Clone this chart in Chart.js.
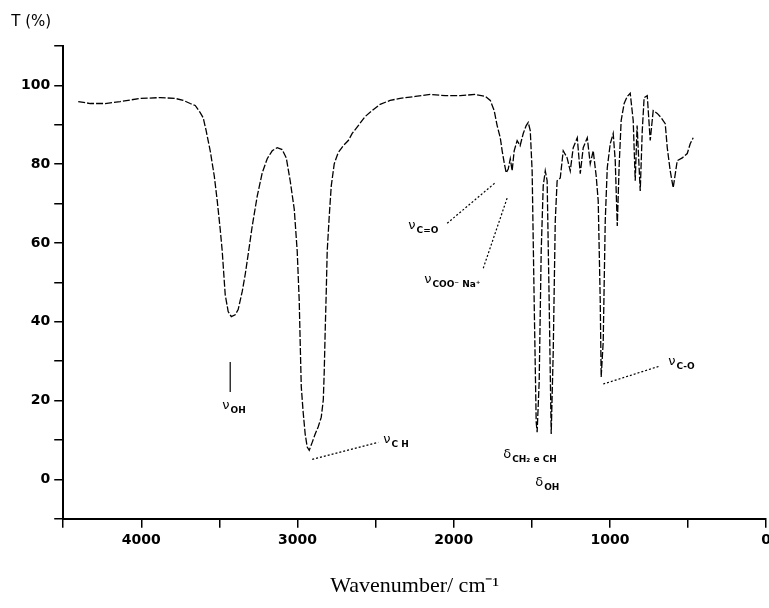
<!DOCTYPE html>
<html>
<head>
<meta charset="utf-8">
<script src="https://cdn.jsdelivr.net/npm/chart.js@4.4.1/dist/chart.umd.min.js"></script>
<style>
  html, body { margin: 0; padding: 0; background: #fff; overflow: hidden; }
  #box { width: 775px; height: 608px; position: relative; }
</style>
</head>
<body>
<div id="box"><canvas id="chart1"></canvas></div>
<script>
// IR spectrum (wavenumber in cm-1, transmittance in %)
const waveNumbers = [
  4404, 4327, 4231, 4135, 4007, 3879, 3783, 3732, 3687, 3655, 3623, 3604, 3585, 3559, 3533, 3514,
  3495, 3482, 3463, 3444, 3424, 3399, 3380, 3354, 3335, 3316, 3290, 3258, 3226, 3194, 3162, 3130,
  3098, 3072, 3047, 3021, 3002, 2989, 2983, 2976, 2964, 2951, 2938, 2925, 2906, 2887, 2868, 2848,
  2835, 2829, 2823, 2816, 2810, 2797, 2784, 2765, 2740, 2707, 2675, 2650, 2611, 2567, 2522, 2471,
  2407, 2343, 2246, 2150, 2054, 1958, 1862, 1798, 1766, 1741, 1722, 1702, 1690, 1677, 1664, 1651,
  1638, 1626, 1613, 1594, 1575, 1555, 1536, 1523, 1510, 1498, 1485, 1472, 1466, 1453, 1440, 1427,
  1414, 1402, 1389, 1376, 1363, 1350, 1338, 1318, 1299, 1274, 1254, 1235, 1209, 1190, 1171, 1145,
  1126, 1107, 1088, 1075, 1062, 1056, 1043, 1030, 1017, 998, 979, 966, 953, 941, 928, 909,
  889, 870, 851, 838, 826, 806, 793, 781, 761, 742, 723, 697, 672, 646, 633, 614,
  595, 569, 537, 505, 486, 467
];
const transmittance = [
  95.9, 95.4, 95.4, 95.9, 96.7, 96.9, 96.7, 96.2, 95.4, 94.9, 93.1, 91.8, 88.5, 83.4, 77.0, 70.7,
  63.5, 57.9, 46.9, 42.6, 41.3, 41.8, 43.1, 47.7, 52.0, 57.1, 64.3, 71.9, 77.8, 81.4, 83.4, 84.2,
  83.7, 81.6, 75.8, 68.6, 57.9, 45.2, 34.9, 23.5, 17.1, 11.5, 8.2, 7.4, 9.4, 11.5, 13.3, 15.8,
  20.2, 27.3, 37.5, 47.7, 57.9, 66.8, 74.5, 80.1, 82.9, 84.7, 86.0, 87.8, 89.8, 92.1, 93.6, 95.2,
  96.2, 96.7, 97.2, 97.7, 97.4, 97.4, 97.7, 97.2, 96.2, 93.6, 89.8, 86.7, 83.4, 80.4, 77.8, 78.8,
  81.4, 78.3, 83.4, 86.0, 84.7, 87.8, 89.8, 90.6, 88.5, 78.3, 45.2, 14.5, 12.0, 24.7, 57.9, 74.5,
  78.3, 75.8, 45.2, 11.5, 32.4, 65.6, 75.8, 76.5, 83.4, 81.6, 78.3, 84.2, 86.7, 77.6, 84.2, 86.7,
  80.1, 83.4, 77.0, 70.7, 45.2, 26.0, 34.9, 65.6, 79.1, 85.2, 87.8, 80.9, 64.3, 79.6, 91.1, 95.4,
  97.2, 98.0, 91.1, 75.8, 89.8, 73.2, 88.5, 96.9, 97.4, 86.0, 93.6, 92.9, 91.8, 90.3, 84.2, 78.3,
  74.0, 80.9, 81.6, 82.7, 85.2, 86.7
];

const xMin = 0, xMax = 4500;
const yMin = -10, yMax = 110;

// band assignments: symbol, subscript, where the label sits (wavenumber, T)
const bandLabels = [
  { sym: 'ν', sub: 'OH', x: 3482, y: 18.6 },
  { sym: 'ν', sub: 'C H', x: 2451, y: 10.2 },
  { sym: 'ν', sub: 'C=O', x: 2291, y: 64.5 },
  { sym: 'ν', sub: 'COO⁻ Na⁺', x: 2189, y: 50.8 },
  { sym: 'δ', sub: 'CH₂ e CH', x: 1683, y: 6.4 },
  { sym: 'δ', sub: 'OH', x: 1478, y: -0.8 },
  { sym: 'ν', sub: 'C-O', x: 627, y: 29.8 }
];
// leader lines [x1, y1, x2, y2, dotted]
const leaders = [
  [3431, 29.8, 3431, 22.2, false],
  [2906, 5.1, 2483, 9.4, true],
  [2042, 65.0, 1734, 75.3, true],
  [1811, 53.6, 1658, 71.4, true],
  [1043, 24.2, 678, 28.8, true]
];

const points = [];
for (let i = 0; i < waveNumbers.length; i++) {
  points.push({ x: waveNumbers[i], y: transmittance[i] });
}

const labelPlugin = {
  id: 'bandLabels',
  afterDatasetsDraw(chart) {
    const c = chart.ctx;
    const xs = chart.scales.x;
    const ys = chart.scales.y;
    c.save();
    c.strokeStyle = '#000';
    c.lineWidth = 1.2;
    leaders.forEach(l => {
      c.setLineDash(l[4] ? [2, 2] : []);
      c.beginPath();
      c.moveTo(xs.getPixelForValue(l[0]), ys.getPixelForValue(l[1]));
      c.lineTo(xs.getPixelForValue(l[2]), ys.getPixelForValue(l[3]));
      c.stroke();
    });
    c.setLineDash([]);
    c.fillStyle = '#000';
    c.textAlign = 'left';
    c.textBaseline = 'middle';
    bandLabels.forEach(b => {
      const px = xs.getPixelForValue(b.x);
      const py = ys.getPixelForValue(b.y);
      c.font = '13px "DejaVu Sans"';
      c.fillText(b.sym, px, py);
      const w = c.measureText(b.sym).width;
      c.font = 'bold 9px "DejaVu Sans"';
      c.fillText(b.sub, px + w + 1, py + 5);
    });
    // axis name top left
    c.font = '15px "DejaVu Sans"';
    c.textBaseline = 'alphabetic';
    c.fillText('T (%)', chart.chartArea.left - 52, chart.chartArea.top - 20);
    c.restore();
  }
};

new Chart(document.getElementById('chart1'), {
  type: 'line',
  data: {
    datasets: [{
      data: points,
      borderColor: '#000',
      borderWidth: 1.3,
      borderDash: [7, 2],
      pointRadius: 0,
      tension: 0,
      fill: false
    }]
  },
  options: {
    responsive: true,
    maintainAspectRatio: false,
    animation: false,
    layout: { padding: { left: 17, top: 46, right: 0, bottom: 0 } },
    plugins: {
      legend: { display: false },
      tooltip: { enabled: false }
    },
    scales: {
      x: {
        type: 'linear',
        reverse: true,
        min: xMin,
        max: xMax,
        border: { color: '#000', width: 2 },
        grid: { drawOnChartArea: false, color: '#000', tickLength: 9, lineWidth: 1.5 },
        ticks: {
          stepSize: 500,
          color: '#000',
          font: { family: 'DejaVu Sans', size: 14, weight: 'bold' },
          maxRotation: 0,
          padding: 4,
          callback: v => (v % 1000 === 0 ? String(v) : '')
        },
        title: {
          display: true,
          text: 'Wavenumber/ cm⁻¹',
          color: '#000',
          font: { family: 'Liberation Serif', size: 22 },
          padding: { top: 20, bottom: 9 }
        }
      },
      y: {
        min: yMin,
        max: yMax,
        border: { color: '#000', width: 2 },
        grid: { drawOnChartArea: false, color: '#000', tickLength: 9, lineWidth: 1.5 },
        ticks: {
          stepSize: 10,
          color: '#000',
          font: { family: 'DejaVu Sans', size: 14, weight: 'bold' },
          padding: 4,
          callback: v => (v % 20 === 0 && v >= 0 && v <= 100 ? String(v) : '')
        }
      }
    }
  },
  plugins: [labelPlugin]
});
</script>
</body>
</html>
